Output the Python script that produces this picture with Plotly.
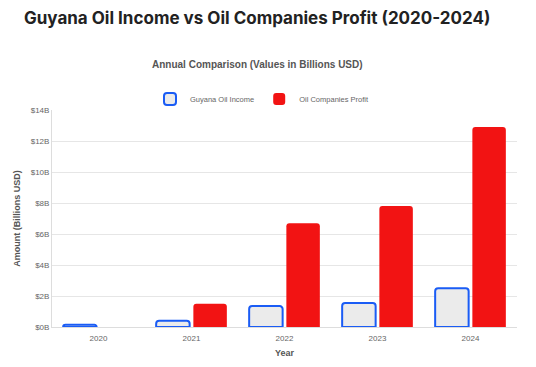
import plotly.graph_objects as go

years = ["2020", "2021", "2022", "2023", "2024"]
guyana_income = [0.15, 0.4, 1.35, 1.55, 2.5]
company_profit = [0.0, 1.5, 6.7, 7.8, 12.9]
tick_vals = [0, 2, 4, 6, 8, 10, 12, 14]
tick_text = ["$0B", "$2B", "$4B", "$6B", "$8B", "$10B", "$12B", "$14B"]

# The page body has an 8px margin, so the figure is drawn 8px smaller and shifted.
W, H = 528, 359
L, R, T, B = 44, 19, 102, 40
pw, ph = W - L - R, H - T - B

def px(x):
    return (x - 8 - L) / pw

def py(y):
    return 1 + (T - (y - 8)) / ph

fig = go.Figure()
fig.add_trace(go.Bar(
    x=years, y=guyana_income, name="Guyana Oil Income",
    marker=dict(color="#ebebeb", line=dict(color="#1a5cf5", width=2)),
))
fig.add_trace(go.Bar(
    x=years, y=company_profit, name="Oil Companies Profit",
    marker=dict(color="#f21313", line=dict(color="#f21313", width=0)),
))

fig.update_layout(
    width=W, height=H,
    margin=dict(l=L, r=R, t=T, b=B),
    paper_bgcolor="white", plot_bgcolor="white",
    barmode="group", bargap=0.2, bargroupgap=0.1,
    barcornerradius=3,
    font=dict(family="Liberation Sans, Arial, sans-serif", size=8, color="#666"),
    showlegend=True,
    legend=dict(orientation="h", x=px(262), xanchor="center", y=py(99), yanchor="middle",
                font=dict(size=7.5, color="#666"), itemwidth=30, traceorder="normal"),
    hovermode=False,
    shapes=[
        dict(type="line", xref="paper", yref="paper", x0=px(534), x1=px(534),
             y0=py(0), y1=py(367), line=dict(color="#ececec", width=1)),
    ],
    annotations=[
        dict(text="<b>Guyana Oil Income vs Oil Companies Profit (2020-2024)</b>",
             xref="paper", yref="paper", x=px(257), y=py(18),
             xanchor="center", yanchor="middle", showarrow=False,
             font=dict(family="Inter, Roboto, sans-serif", size=17, color="#222")),
        dict(text="<b>Annual Comparison (Values in Billions USD)</b>",
             xref="paper", yref="paper", x=px(257), y=py(64),
             xanchor="center", yanchor="middle", showarrow=False,
             font=dict(family="Liberation Sans, Arial, sans-serif", size=10, color="#555")),
    ],
)
fig.update_xaxes(
    automargin=False,
    title=dict(text="<b>Year</b>", font=dict(size=9, color="#555"), standoff=8),
    showgrid=False, showline=True, linecolor="#ddd", linewidth=1,
    ticks="", ticklabelstandoff=3, tickfont=dict(size=8, color="#666"),
)
fig.update_yaxes(
    automargin=False,
    title=dict(text="<b>Amount (Billions USD)</b>", font=dict(size=9, color="#555"), standoff=8),
    range=[0, 14], tickvals=tick_vals, ticktext=tick_text,
    showgrid=True, gridcolor="#e6e6e6", gridwidth=1,
    showline=True, linecolor="#ddd", zeroline=False,
    ticks="", tickfont=dict(size=8, color="#666"),
)
fig.write_html("out.html")
